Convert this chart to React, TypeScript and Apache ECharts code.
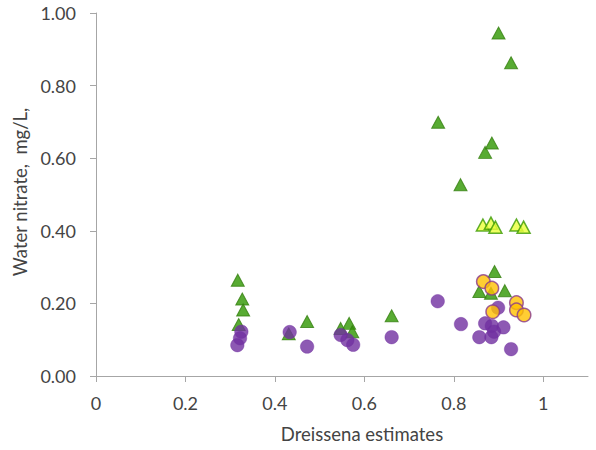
import React, { useEffect, useRef } from "react";
import * as echarts from "echarts";

const xTickValues = [0, 0.2, 0.4, 0.6, 0.8, 1];
const yTickValues = [0, 0.2, 0.4, 0.6, 0.8, 1];

// Green triangles (nitrate)
const greenTriangles: [number, number][] = [
  [0.317, 0.264], [0.327, 0.212], [0.329, 0.182], [0.319, 0.142],
  [0.431, 0.116], [0.472, 0.150],
  [0.547, 0.131], [0.566, 0.145], [0.573, 0.122],
  [0.661, 0.166],
  [0.765, 0.699], [0.815, 0.527], [0.870, 0.616], [0.885, 0.642],
  [0.900, 0.945], [0.928, 0.863],
  [0.891, 0.288], [0.857, 0.233], [0.883, 0.228], [0.914, 0.235],
];

// Yellow triangles
const yellowTriangles: [number, number][] = [
  [0.865, 0.416], [0.883, 0.421], [0.893, 0.410], [0.940, 0.416], [0.956, 0.410],
];

// Purple circles
const purpleCircles: [number, number][] = [
  [0.325, 0.122], [0.322, 0.104], [0.316, 0.085],
  [0.433, 0.121], [0.472, 0.081],
  [0.547, 0.113], [0.562, 0.099], [0.575, 0.086],
  [0.661, 0.107], [0.764, 0.206], [0.816, 0.143],
  [0.899, 0.188], [0.870, 0.145], [0.885, 0.138], [0.911, 0.134],
  [0.857, 0.107], [0.884, 0.107], [0.890, 0.122], [0.928, 0.074],
];

// Orange circles
const orangeCircles: [number, number][] = [
  [0.866, 0.260], [0.885, 0.242], [0.887, 0.177],
  [0.940, 0.202], [0.940, 0.182], [0.957, 0.168],
];

const FONT = "Lato";
const TEXT_COLOR = "#444444";
const AXIS_COLOR = "#a6a6a6";

export default function App() {
  const ref = useRef<HTMLDivElement>(null);
  useEffect(() => {
    if (!ref.current) return;
    const chart = echarts.init(ref.current, undefined, { renderer: "svg" });
    chart.setOption({
      animation: false,
      backgroundColor: "#ffffff",
      grid: { left: 96, right: 8, top: 13, bottom: 74, containLabel: false },
      xAxis: {
        type: "value",
        min: 0,
        max: 1.1,
        interval: 0.2,
        splitLine: { show: false },
        axisLine: { show: true, lineStyle: { color: AXIS_COLOR, width: 1 } },
        axisTick: {
          show: true,
          inside: false,
          length: 6,
          customValues: xTickValues,
          lineStyle: { color: AXIS_COLOR },
        },
        axisLabel: {
          customValues: xTickValues,
          margin: 18,
          color: TEXT_COLOR,
          fontFamily: FONT,
          fontSize: 18,
          formatter: (v: number) => String(Math.round(v * 10) / 10),
        },
      },
      yAxis: {
        type: "value",
        min: 0,
        max: 1,
        interval: 0.2,
        splitLine: { show: false },
        axisLine: { show: true, lineStyle: { color: AXIS_COLOR, width: 1 } },
        axisTick: {
          show: true,
          inside: false,
          length: 6,
          customValues: yTickValues,
          lineStyle: { color: AXIS_COLOR },
        },
        axisLabel: {
          customValues: yTickValues,
          margin: 20,
          color: TEXT_COLOR,
          fontFamily: FONT,
          fontSize: 18,
          formatter: (v: number) => v.toFixed(2),
        },
      },
      graphic: [
        {
          type: "text",
          x: 20,
          y: 192,
          rotation: Math.PI / 2,
          style: {
            text: "Water nitrate,  mg/L,",
            fill: TEXT_COLOR,
            font: `18.5px ${FONT}`,
            align: "center",
            verticalAlign: "middle",
          },
        },
        {
          type: "text",
          x: 362,
          y: 434,
          style: {
            text: "Dreissena estimates",
            fill: TEXT_COLOR,
            font: `18.5px ${FONT}`,
            align: "center",
            verticalAlign: "middle",
          },
        },
      ],
      series: [
        {
          type: "scatter",
          name: "green",
          data: greenTriangles,
          symbol: "triangle",
          symbolSize: [13, 12],
          itemStyle: { color: "#2e9600", borderColor: "#367f10", borderWidth: 1 },
          z: 2,
        },
        {
          type: "scatter",
          name: "yellow",
          data: yellowTriangles,
          symbol: "triangle",
          symbolSize: [13, 12],
          itemStyle: { color: "#eaff3a", borderColor: "#3a9a00", borderWidth: 1.5 },
          z: 3,
        },
        {
          type: "scatter",
          name: "purple",
          data: purpleCircles,
          symbol: "circle",
          symbolSize: 13.5,
          itemStyle: { color: "#7030a0", borderColor: "#7030a0", borderWidth: 0.5 },
          z: 4,
        },
        {
          type: "scatter",
          name: "orange",
          data: orangeCircles,
          symbol: "circle",
          symbolSize: 13.5,
          itemStyle: { color: "#ffc000", borderColor: "#8a3a8a", borderWidth: 1.5 },
          z: 5,
        },
      ],
    });
    return () => chart.dispose();
  }, []);
  return <div ref={ref} style={{ width: 596, height: 450, position: "absolute", left: 0, top: 0 }} />;
}
